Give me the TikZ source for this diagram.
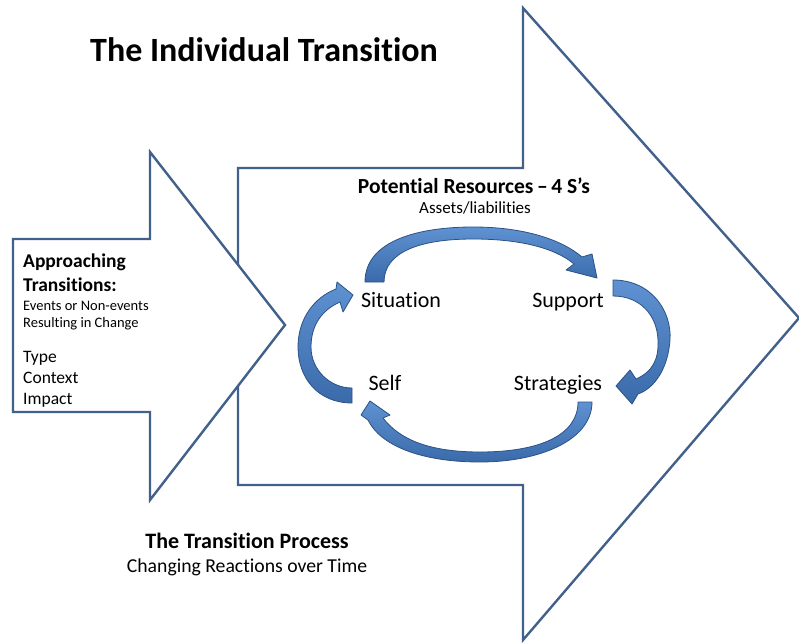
\documentclass[tikz,border=0pt]{standalone}
\usepackage{fontspec}
\setmainfont{Carlito}[Ligatures=NoCommon]
\definecolor{outl}{HTML}{41618C}
\definecolor{clight}{HTML}{5F92D2}
\definecolor{cdark}{HTML}{3A6AAA}
\definecolor{cedge}{HTML}{2C5285}
\begin{document}
\begin{tikzpicture}[x=1pt,y=-1pt,
  bigarrow/.style={draw=outl, line width=2.4pt, fill=white, line join=miter},
  curvearrow/.style={draw=cedge, line width=0.8pt, top color=clight, bottom color=cdark, line join=round},
  lbl/.style={inner sep=0pt, anchor=base},
  lblw/.style={inner sep=0pt, anchor=base west},
  ttl/.style={font=\fontsize{34}{40}\selectfont\bfseries},
  hdr/.style={font=\fontsize{21.5}{26}\selectfont\bfseries},
  sub/.style={font=\fontsize{17}{20}\selectfont},
  ess/.style={font=\fontsize{22}{26}\selectfont},
  lhdr/.style={font=\fontsize{19.5}{23}\selectfont\bfseries},
  lsmall/.style={font=\fontsize{14.5}{17}\selectfont},
  lmid/.style={font=\fontsize{17.5}{21}\selectfont},
  phdr/.style={font=\fontsize{22}{26}\selectfont\bfseries},
  psub/.style={font=\fontsize{19.7}{24}\selectfont}
]
\useasboundingbox[fill=white] (0,0) rectangle (799,644);

% big arrow (transition process)
\draw[bigarrow] (238,168) -- (523,168) -- (523,8) -- (799,318) -- (523,640) -- (523,485) -- (238,485) -- cycle;
% small arrow (approaching transitions)
\draw[bigarrow] (13,239) -- (150,239) -- (150,152) -- (285,325) -- (150,500) -- (150,412) -- (13,412) -- cycle;

% curved arrows
\path[curvearrow] (365,282) .. controls (365,240) and (420,227) .. (473,227)
  .. controls (525,227) and (562,240) .. (582,257) -- (592,254) -- (597,278) -- (566,270) -- (574,264)
  .. controls (555,248) and (520,239) .. (473,239)
  .. controls (420,239) and (384,252) .. (384,282) -- cycle;
\path[curvearrow] (613,280) .. controls (652,280) and (672,312) .. (670,340)
  .. controls (668,368) and (655,388) .. (638,394) -- (632,404) -- (616,386) -- (630,370) -- (636,379)
  .. controls (652,372) and (659,360) .. (658,340)
  .. controls (657,315) and (640,296) .. (613,296) -- cycle;
\path[curvearrow] (592,402) .. controls (592,440) and (540,462) .. (480,462)
  .. controls (420,462) and (380,445) .. (368,420) -- (361,415) -- (370,401) -- (390,415) -- (383,418)
  .. controls (400,440) and (430,452) .. (480,452)
  .. controls (540,452) and (578,435) .. (578,402) -- cycle;
\path[curvearrow] (352,403) .. controls (318,403) and (298,378) .. (298,347)
  .. controls (298,318) and (315,297) .. (336,289) -- (337,282) -- (353,295) -- (343,312) -- (340,302)
  .. controls (322,310) and (311,325) .. (311,347)
  .. controls (311,370) and (330,388) .. (352,388) -- cycle;

% texts
\node[lbl, ttl] (title) at (264,62) {The Individual Transition};
\node[lbl, hdr] (res) at (474,194) {Potential Resources\,--\,4 S’s};
\node[lbl, sub] (assets) at (475,214) {Assets/liabilities};
\node[lbl, ess] (situation) at (401,307) {Situation};
\node[lbl, ess] (support) at (568,307) {Support};
\node[lbl, ess] (self) at (385,390) {Self};
\node[lbl, ess] (strategies) at (558,390) {Strategies};

\node[lblw, lhdr] (appr) at (23,267) {Approaching};
\node[lblw, lhdr] (trans) at (23,291) {Transitions:};
\node[lblw, lsmall] (events) at (23,310) {Events or Non-events};
\node[lblw, lsmall] (result) at (23,327) {Resulting in Change};
\node[lblw, lmid] (type) at (23,362) {Type};
\node[lblw, lmid] (context) at (23,383) {Context};
\node[lblw, lmid] (impact) at (23,404) {Impact};

\node[lbl, phdr] (proc) at (247,548) {The Transition Process};
\node[lbl, psub] (chg) at (247,572) {Changing Reactions over Time};
\end{tikzpicture}
\end{document}
